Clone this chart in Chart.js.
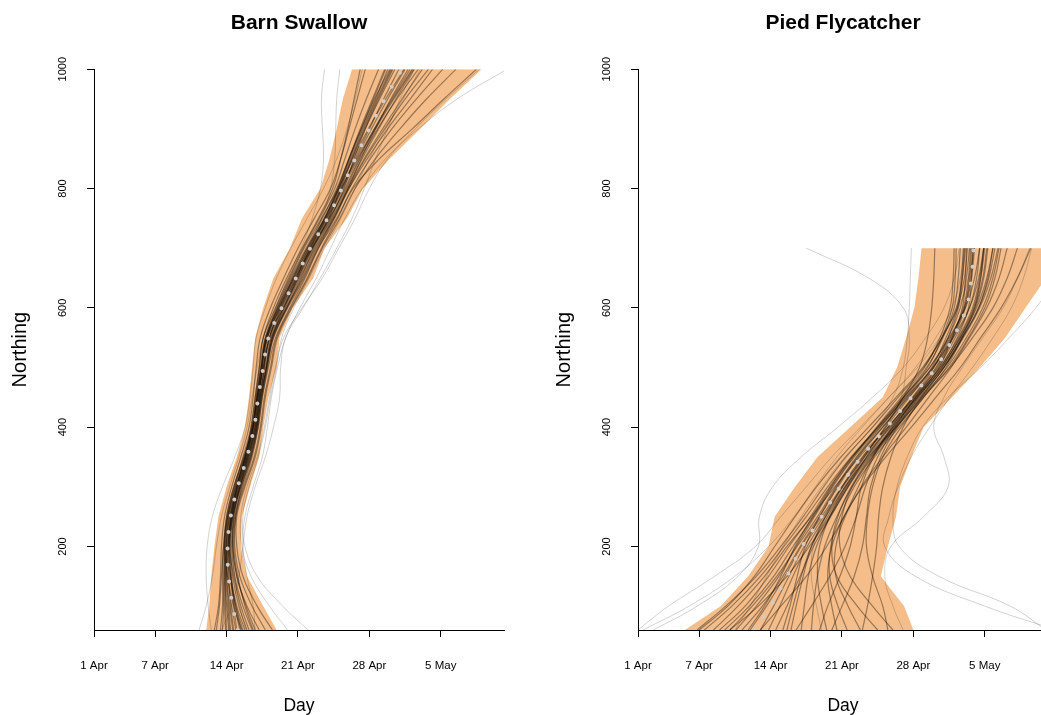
<!DOCTYPE html>
<html>
<head>
<meta charset="utf-8">
<script src="https://cdn.jsdelivr.net/npm/chart.js@4"></script>
<style>
  html, body { margin: 0; padding: 0; overflow: hidden; background: #fff; }
  #wrap { position: relative; width: 1041px; height: 715px; overflow: hidden; }
  canvas { position: absolute; top: 0; }
</style>
</head>
<body>
<div id="wrap">
  <canvas id="swallow" width="520" height="715" style="left:0"></canvas>
  <canvas id="flycatcher" width="520" height="715" style="left:544px"></canvas>
</div>
<script>
Chart.defaults.font.family = '"Liberation Sans", Arial, Helvetica, sans-serif';
Chart.defaults.color = '#000';

// days counted from 1 Apr
const dayTicks = [0, 6, 13, 20, 27, 34];
const dayLabels = ['1 Apr', '7 Apr', '14 Apr', '21 Apr', '28 Apr', '5 May'];
const northTicks = [200, 400, 600, 800, 1000];

// Barn Swallow
const swallowNorthing = [60, 100, 150, 200, 250, 300, 350, 400, 450, 500, 550, 600, 650, 700, 750, 800, 850, 900, 950, 1000];
const swallowMedian = [14.1, 13.6, 13.2, 13.1, 13.4, 14.1, 15.0, 15.7, 16.1, 16.6, 17.1, 18.4, 19.8, 21.2, 22.9, 24.3, 25.6, 27.0, 28.5, 30.2];
const swallowLow = [11.0, 11.3, 11.5, 11.8, 12.2, 13.0, 14.0, 14.8, 15.2, 15.5, 15.8, 16.6, 17.6, 19.2, 20.4, 22.2, 23.1, 23.8, 24.4, 25.3];
const swallowHigh = [17.9, 16.6, 15.0, 14.4, 14.5, 15.3, 16.2, 16.6, 17.1, 17.9, 18.2, 19.5, 21.5, 22.6, 24.8, 26.4, 29.0, 32.0, 34.9, 38.0];
const swallowTracks = [
  [13.2, 13.0, 12.8, 12.9, 13.3, 14.0, 14.8, 15.5, 15.9, 16.3, 16.8, 18.0, 19.3, 20.8, 22.4, 23.8, 25.0, 26.2, 27.5, 29.0],
  [15.0, 14.2, 13.6, 13.4, 13.6, 14.3, 15.2, 15.9, 16.3, 16.9, 17.5, 18.9, 20.3, 21.6, 23.3, 24.8, 26.3, 27.9, 29.6, 31.4],
  [12.4, 12.6, 12.7, 12.8, 13.1, 13.8, 14.6, 15.4, 15.8, 16.2, 16.6, 17.8, 19.1, 20.5, 22.1, 23.6, 24.6, 25.6, 26.7, 27.9],
  [16.2, 15.0, 14.0, 13.6, 13.8, 14.6, 15.5, 16.1, 16.5, 17.1, 17.8, 19.2, 20.7, 22.0, 23.6, 25.0, 26.8, 28.8, 31.0, 33.2],
  [14.6, 13.9, 13.3, 13.0, 13.2, 13.9, 14.9, 15.7, 16.2, 16.7, 17.2, 18.3, 19.6, 21.0, 22.7, 24.1, 25.3, 26.6, 28.0, 29.5],
  [13.6, 13.3, 13.0, 12.9, 13.2, 14.0, 15.0, 15.8, 16.2, 16.5, 16.9, 18.1, 19.6, 21.3, 23.1, 24.6, 26.0, 27.5, 29.2, 31.0],
  [17.5, 16.0, 14.6, 14.0, 14.0, 14.8, 15.8, 16.4, 16.8, 17.4, 18.0, 19.4, 21.0, 22.4, 24.1, 25.6, 27.6, 30.0, 32.6, 35.5],
  [11.8, 12.2, 12.4, 12.5, 12.8, 13.5, 14.4, 15.2, 15.6, 15.9, 16.3, 17.3, 18.6, 20.0, 21.6, 23.2, 24.2, 25.0, 25.8, 26.6],
  [14.8, 14.0, 13.4, 13.2, 13.5, 14.2, 15.1, 15.8, 16.1, 16.6, 17.2, 18.5, 19.9, 21.3, 22.9, 24.3, 25.7, 27.2, 28.8, 30.5],
  [13.9, 13.5, 13.1, 13.0, 13.3, 14.1, 15.1, 15.9, 16.3, 16.7, 17.0, 18.2, 19.7, 21.4, 23.2, 24.5, 25.5, 26.6, 27.9, 29.3],
  [15.5, 14.6, 13.8, 13.5, 13.7, 14.4, 15.3, 16.0, 16.4, 17.0, 17.6, 18.9, 20.4, 21.8, 23.5, 24.9, 26.5, 28.3, 30.2, 32.2],
  [12.9, 12.8, 12.8, 13.0, 13.4, 14.2, 15.0, 15.6, 15.9, 16.4, 17.0, 18.6, 20.1, 21.5, 23.0, 24.2, 25.3, 26.5, 27.8, 29.2],
  [14.3, 13.8, 13.5, 13.3, 13.5, 14.0, 14.8, 15.5, 16.0, 16.5, 17.0, 18.2, 19.5, 20.9, 22.6, 24.0, 25.4, 26.9, 28.6, 30.4],
  [13.4, 13.2, 13.0, 13.1, 13.5, 14.3, 15.2, 15.9, 16.2, 16.8, 17.4, 18.7, 20.0, 21.4, 23.0, 24.4, 25.9, 27.6, 29.4, 31.3],
  [16.8, 15.5, 14.3, 13.8, 13.9, 14.5, 15.4, 16.0, 16.4, 16.9, 17.4, 18.8, 20.2, 21.7, 23.4, 24.9, 26.2, 27.6, 29.1, 30.8],
  [12.0, 12.3, 12.5, 12.7, 13.0, 13.7, 14.7, 15.5, 16.0, 16.4, 16.8, 17.9, 19.2, 20.6, 22.3, 23.9, 25.0, 26.1, 27.3, 28.5],
  [15.2, 14.4, 13.7, 13.3, 13.4, 14.1, 15.0, 15.7, 16.1, 16.5, 16.9, 18.1, 19.5, 21.1, 22.8, 24.2, 25.8, 27.5, 29.3, 31.2],
  [13.7, 13.4, 13.2, 13.2, 13.6, 14.4, 15.4, 16.1, 16.5, 17.0, 17.5, 18.6, 19.9, 21.2, 22.7, 24.0, 25.2, 26.4, 27.7, 29.1],
  [14.5, 13.7, 13.1, 12.8, 13.0, 13.7, 14.7, 15.6, 16.1, 16.6, 17.3, 18.6, 20.0, 21.4, 23.1, 24.7, 26.1, 27.8, 29.7, 31.8],
  [13.0, 12.9, 12.9, 13.1, 13.5, 14.1, 14.9, 15.6, 16.0, 16.4, 16.9, 18.3, 19.8, 21.2, 22.8, 24.3, 25.6, 27.0, 28.4, 29.9],
  [15.6, 14.8, 14.1, 13.7, 13.9, 14.7, 15.7, 16.3, 16.7, 17.3, 17.9, 19.3, 20.9, 22.3, 23.9, 25.4, 28.0, 31.2, 34.3, 37.5],
  [12.6, 12.7, 12.6, 12.7, 13.1, 13.9, 14.8, 15.4, 15.8, 16.2, 16.6, 17.6, 18.9, 20.4, 22.0, 23.4, 24.2, 24.9, 25.5, 26.1],
  [14.0, 13.7, 13.4, 13.3, 13.6, 14.3, 15.3, 16.0, 16.4, 16.9, 17.5, 18.9, 20.5, 21.9, 23.5, 25.0, 26.6, 28.5, 30.5, 32.8],
  [13.3, 13.1, 12.9, 12.8, 13.1, 13.8, 14.8, 15.6, 16.0, 16.4, 16.9, 18.0, 19.4, 20.9, 22.6, 24.0, 25.1, 26.3, 27.6, 28.8],
  [15.8, 14.9, 14.0, 13.6, 13.7, 14.3, 15.1, 15.8, 16.3, 16.9, 17.6, 19.0, 20.6, 22.0, 23.8, 25.3, 27.1, 29.2, 31.6, 34.2],
  [14.4, 13.9, 13.4, 13.2, 13.4, 14.0, 14.9, 15.6, 16.0, 16.6, 17.2, 18.4, 19.8, 21.1, 22.6, 23.9, 25.0, 26.2, 27.4, 28.6]
];
const swallowStrays = [
  [10.3, 11.0, 11.6, 12.0, 12.5, 13.3, 14.2, 15.0, 15.5, 16.0, 16.6, 17.8, 19.0, 20.3, 21.4, 22.2, 22.5, 22.4, 22.3, 22.6],
  [15.8, 15.6, 15.0, 14.6, 14.8, 15.6, 16.5, 17.0, 17.4, 18.0, 18.8, 20.2, 21.8, 23.2, 24.6, 26.3, 28.6, 31.8, 35.6, 40.5],
  [21.0, 18.5, 16.0, 14.8, 14.6, 15.2, 16.1, 16.8, 17.3, 17.9, 18.4, 19.6, 21.1, 22.6, 24.2, 25.6, 27.0, 28.6, 30.3, 32.0],
  [12.5, 13.5, 14.2, 14.6, 15.0, 15.8, 16.8, 17.6, 18.2, 18.3, 18.8, 20.5, 22.2, 23.8, 25.3, 26.5, 27.6, 28.8, 30.0, 31.4],
  [11.5, 11.2, 11.0, 11.1, 11.6, 12.6, 13.8, 14.8, 15.3, 15.6, 15.9, 16.8, 17.9, 19.3, 20.9, 22.5, 23.8, 24.8, 25.6, 26.3],
  [14.9, 14.3, 13.8, 13.6, 13.8, 14.5, 15.4, 16.0, 16.3, 16.7, 17.2, 18.4, 19.7, 21.0, 22.3, 23.2, 23.6, 23.7, 23.8, 24.1],
  [19.0, 17.2, 15.4, 14.5, 14.4, 15.0, 16.0, 16.7, 17.2, 17.8, 18.6, 20.4, 22.4, 24.0, 25.6, 27.0, 28.8, 31.5, 34.5, 37.8]
];

// Pied Flycatcher
const flyNorthing = [60, 100, 150, 200, 250, 300, 350, 400, 450, 500, 550, 600, 650, 700];
const flyMedian = [11.4, 13.0, 14.6, 16.1, 18.0, 19.8, 21.9, 24.4, 26.8, 29.2, 30.9, 32.2, 32.7, 32.9];
const flyLow = [4.6, 8.1, 10.8, 12.8, 13.4, 15.4, 17.6, 20.8, 24.0, 25.4, 26.3, 27.1, 27.5, 27.8];
const flyHigh = [27.0, 26.1, 23.8, 24.5, 25.3, 25.7, 26.8, 28.0, 30.8, 33.5, 36.0, 38.0, 40.0, 41.5];
const flyTracks = [
  [8.0, 10.5, 12.8, 14.8, 16.9, 18.8, 21.0, 23.6, 26.2, 28.6, 30.4, 31.6, 32.2, 32.5],
  [13.5, 14.6, 15.9, 17.2, 18.9, 20.6, 22.7, 25.1, 27.4, 29.8, 31.5, 32.9, 33.6, 34.0],
  [6.5, 9.2, 12.0, 14.3, 16.5, 18.6, 20.9, 23.5, 26.0, 28.3, 29.9, 31.0, 31.4, 31.6],
  [17.0, 17.2, 17.6, 18.3, 19.5, 21.0, 23.0, 25.4, 27.8, 30.3, 32.2, 33.8, 34.8, 35.4],
  [10.2, 12.2, 14.2, 15.9, 17.8, 19.6, 21.6, 24.0, 26.4, 28.9, 30.6, 32.0, 32.6, 32.9],
  [20.5, 19.6, 18.8, 18.9, 19.8, 21.2, 23.2, 25.6, 28.0, 30.2, 31.8, 33.1, 33.9, 34.3],
  [7.4, 9.8, 12.4, 14.6, 17.0, 19.3, 21.7, 24.5, 27.1, 29.6, 31.3, 32.4, 32.7, 32.8],
  [12.8, 13.9, 15.2, 16.6, 18.4, 20.3, 22.5, 25.0, 27.3, 29.5, 30.8, 31.8, 32.1, 32.2],
  [23.5, 21.5, 19.5, 19.0, 19.6, 20.9, 22.8, 25.2, 27.6, 30.0, 31.9, 33.5, 34.6, 35.3],
  [9.0, 11.2, 13.6, 15.6, 17.6, 19.4, 21.4, 23.8, 26.1, 28.4, 29.8, 30.8, 31.1, 31.2],
  [15.0, 15.5, 16.2, 17.0, 18.4, 20.0, 22.0, 24.5, 27.0, 29.4, 31.1, 32.5, 33.2, 33.5],
  [5.8, 8.6, 11.6, 14.0, 16.2, 18.2, 20.4, 23.0, 25.5, 28.0, 29.8, 31.3, 32.0, 32.3],
  [18.5, 18.0, 17.6, 17.8, 18.8, 20.4, 22.4, 24.8, 27.3, 29.7, 31.6, 33.2, 34.2, 34.8],
  [11.0, 12.6, 14.4, 16.0, 18.0, 20.0, 22.2, 24.7, 27.2, 29.6, 31.4, 32.8, 33.5, 33.9],
  [14.2, 14.9, 15.6, 16.4, 17.8, 19.5, 21.5, 24.0, 26.5, 29.0, 30.7, 31.9, 32.4, 32.6],
  [9.6, 11.6, 13.8, 15.5, 17.3, 19.1, 21.2, 23.7, 26.3, 28.9, 30.9, 32.5, 33.4, 33.9],
  [21.8, 20.6, 19.4, 19.4, 20.3, 21.9, 24.0, 26.3, 28.5, 30.7, 32.5, 34.2, 35.4, 36.2],
  [12.0, 13.3, 14.8, 16.3, 18.2, 20.1, 22.1, 24.3, 26.6, 28.8, 30.2, 31.3, 31.7, 31.9],
  [16.0, 16.3, 16.7, 17.5, 18.8, 20.5, 22.6, 25.3, 27.9, 30.5, 32.4, 34.0, 35.0, 35.6],
  [8.5, 10.9, 13.3, 15.2, 17.2, 19.0, 21.1, 23.4, 25.8, 28.1, 29.6, 30.6, 30.9, 31.0],
  [25.0, 23.0, 20.8, 19.8, 20.0, 21.0, 22.9, 25.3, 27.7, 30.0, 31.7, 33.0, 33.6, 33.9],
  [10.8, 12.4, 14.0, 15.4, 17.1, 18.9, 21.0, 23.5, 26.0, 28.6, 30.5, 32.1, 33.0, 33.5],
  [14.6, 15.2, 16.0, 17.0, 18.6, 20.3, 22.2, 24.2, 26.0, 27.6, 28.4, 28.8, 29.0, 29.1],
  [19.5, 19.0, 18.6, 19.0, 20.2, 22.0, 24.3, 26.8, 29.2, 31.6, 33.6, 35.6, 37.2, 38.5],
  [22.0, 22.5, 23.0, 23.4, 23.6, 24.0, 24.8, 26.0, 27.8, 30.0, 31.8, 33.4, 34.4, 35.0],
  [19.0, 20.0, 21.2, 22.0, 22.4, 22.8, 23.8, 25.4, 27.5, 29.8, 31.6, 33.0, 33.8, 34.2],
  [15.5, 17.0, 18.8, 20.3, 21.4, 22.3, 23.5, 25.2, 27.2, 29.3, 30.9, 32.1, 32.7, 33.0],
  [12.0, 14.0, 16.5, 18.5, 20.2, 21.6, 23.0, 24.9, 27.0, 29.2, 30.8, 32.0, 32.5, 32.7],
  [24.5, 24.0, 23.0, 22.4, 22.5, 23.0, 24.0, 25.8, 28.0, 30.6, 32.8, 34.8, 36.2, 37.2],
  [9.0, 11.8, 14.6, 16.8, 18.8, 20.6, 22.4, 24.6, 26.9, 29.0, 30.4, 31.4, 31.8, 32.0],
  [17.8, 18.6, 19.8, 20.8, 21.4, 21.9, 23.1, 25.0, 27.4, 29.9, 31.8, 33.4, 34.3, 34.8],
  [6.0, 8.8, 11.4, 13.4, 15.4, 17.5, 19.9, 22.6, 25.3, 27.9, 29.8, 31.2, 31.8, 32.1]
];
const flyStrays = [
  [0.5, 5.0, 9.5, 12.8, 15.3, 17.4, 19.5, 22.0, 24.6, 27.2, 29.2, 30.8, 31.6, 32.0],
  [1.5, 5.8, 9.8, 11.8, 11.9, 13.2, 16.0, 19.6, 23.0, 26.0, 28.2, 30.0, 31.0, 31.5],
  [41.0, 34.0, 27.2, 24.2, 24.6, 25.5, 26.8, 28.6, 30.6, 32.8, 34.8, 36.6, 37.8, 38.6],
  [26.0, 25.0, 24.2, 24.8, 28.0, 30.4, 30.0, 29.0, 30.0, 31.8, 33.8, 35.8, 37.2, 38.4],
  [18.0, 17.5, 17.0, 17.2, 18.3, 20.0, 22.0, 24.3, 25.8, 26.3, 26.6, 26.0, 22.6, 16.5],
  [0.0, 3.0, 7.5, 11.5, 14.0, 16.5, 19.0, 21.8, 24.6, 27.4, 29.6, 31.4, 32.4, 33.0],
  [40.0, 36.5, 29.5, 25.6, 25.0, 25.4, 26.4, 27.9, 30.4, 33.6, 36.4, 39.0, 41.0, 42.5],
  [9.5, 11.0, 12.6, 14.2, 16.0, 18.0, 20.3, 23.0, 25.0, 26.0, 26.4, 26.6, 26.7, 26.8]
];

function pts(days, north) {
  return days.map((d, i) => ({x: d, y: north[i]}));
}

function line(days, north, color, width, order) {
  return {data: pts(days, north), showLine: true, pointRadius: 0, borderColor: color,
          borderWidth: width, tension: 0.4, fill: false, order: order};
}

function panel(id, title, north, median, low, high, tracks, strays) {
  const datasets = [];
  datasets.push({data: pts(median, north), showLine: true, pointRadius: 0,
    borderColor: 'rgb(205,205,205)', borderWidth: 4, borderDash: [0, 16.5],
    borderCapStyle: 'round', tension: 0.4, fill: false, order: 0});
  tracks.forEach(t => datasets.push(line(t, north, 'rgba(20,10,0,0.4)', 1.2, 1)));
  strays.forEach(t => datasets.push(line(t, north, 'rgba(0,0,0,0.18)', 1, 2)));
  // band: up the left edge, back down the right edge
  const band = pts(low, north).concat(pts(high, north).reverse());
  datasets.push({data: band, showLine: true, pointRadius: 0, borderWidth: 0,
    borderColor: 'rgba(0,0,0,0)', backgroundColor: 'rgb(244,189,137)',
    fill: 'shape', tension: 0, order: 3});

  new Chart(document.getElementById(id), {
    type: 'scatter',
    data: {datasets: datasets},
    options: {
      responsive: false,
      animation: false,
      devicePixelRatio: 1,
      events: [],
      layout: {padding: {left: 0, right: 16, top: 0, bottom: 0}},
      plugins: {
        legend: {display: false},
        tooltip: {enabled: false},
        title: {display: true, text: title, fullSize: false, color: '#000',
          font: {size: 21, weight: 'bold'}, padding: {top: 11, bottom: 33}}
      },
      scales: {
        x: {
          type: 'linear', min: 0, max: 40.2,
          afterBuildTicks: s => { s.ticks = dayTicks.map(v => ({value: v})); },
          afterFit: s => { s.height = 85; },
          ticks: {callback: (v, i) => dayLabels[i], font: {size: 11.5}, color: '#000',
            padding: 22, maxRotation: 0, autoSkip: false},
          grid: {drawOnChartArea: false, tickLength: 7, color: '#000'},
          border: {display: true, color: '#000', width: 1},
          title: {display: true, text: 'Day', color: '#000',
            font: {size: 17.5, lineHeight: 1}, padding: {top: 0, bottom: 0}}
        },
        y: {
          type: 'linear', min: 60, max: 1000,
          afterBuildTicks: s => { s.ticks = northTicks.map(v => ({value: v})); },
          afterFit: s => { s.width = 94; },
          ticks: {callback: v => String(v), font: {size: 11}, color: '#000',
            minRotation: 90, maxRotation: 90, crossAlign: 'center', padding: 12},
          grid: {drawOnChartArea: false, tickLength: 7, color: '#000'},
          border: {display: true, color: '#000', width: 1},
          title: {display: true, text: 'Northing', color: '#000',
            font: {size: 20, lineHeight: 1}, padding: {top: 10.5, bottom: 0}}
        }
      }
    }
  });
}

panel('swallow', 'Barn Swallow', swallowNorthing, swallowMedian, swallowLow, swallowHigh, swallowTracks, swallowStrays);
panel('flycatcher', 'Pied Flycatcher', flyNorthing, flyMedian, flyLow, flyHigh, flyTracks, flyStrays);
</script>
</body>
</html>
